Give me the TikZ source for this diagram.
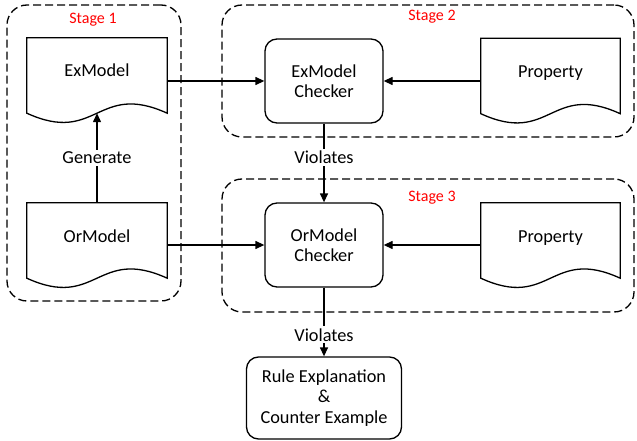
\documentclass[tikz,border=0pt]{standalone}
\usepackage{fontspec}
\setmainfont{Carlito}
\usetikzlibrary{arrows.meta,calc}
\tikzset{
  base/.style={font=\fontsize{18.3}{20.5}\selectfont, inner sep=0pt},
  docnode/.style={base, rectangle, minimum width=140pt, minimum height=75pt, text height=13pt, text depth=10pt},
  procbox/.style={base, draw, line width=1.3pt, rounded corners=12pt, minimum width=118pt, minimum height=84pt, align=center},
  stagebox/.style={draw, line width=1.3pt, dash pattern=on 8pt off 4pt, rounded corners=20pt, inner sep=0pt},
  stagelabel/.style={font=\fontsize{16}{18}\selectfont, text=red, inner sep=0pt},
  flow/.style={draw, line width=1.3pt, -{Triangle[length=9pt,width=8pt]}},
  plainline/.style={line width=1.3pt},
  edgelabel/.style={base, fill=white, inner sep=2pt},
}
% outline of a "document" shape: flat top, wavy bottom
\newcommand{\docoutline}[1]{%
  \draw[plainline] (#1.south west) -- (#1.north west) -- (#1.north east) -- (#1.south east)
    .. controls ($(#1.south)+(0,-32)$) and ($(#1.south)+(0,32)$) .. (#1.south west) -- cycle;}
\begin{document}
\begin{tikzpicture}[x=1pt,y=-1pt]
\useasboundingbox (0,0) rectangle (637,441);

% stage containers
\node[stagebox, minimum width=174pt, minimum height=296pt] (stage1) at (94,153) {};
\node[stagebox, minimum width=412pt, minimum height=132pt] (stage2) at (428,71) {};
\node[stagebox, minimum width=412pt, minimum height=133pt] (stage3) at (428,245.5) {};
\node[stagelabel] (s1lbl) at (93,20) {Stage 1};
\node[stagelabel] (s2lbl) at (432,17) {Stage 2};
\node[stagelabel] (s3lbl) at (432,198) {Stage 3};

% documents
\node[docnode] (exm) at (97,75.5) {ExModel};
\node[docnode] (orm) at (97,240.5) {OrModel};
\node[docnode, minimum width=139pt] (prop1) at (550.5,76) {Property};
\node[docnode, minimum width=139pt] (prop2) at (550.5,240.5) {Property};
\docoutline{exm}
\docoutline{orm}
\docoutline{prop1}
\docoutline{prop2}

% checkers and result
\node[procbox] (exc) at (324,81) {ExModel\\Checker};
\node[procbox] (orc) at (324,245) {OrModel\\Checker};
\node[procbox, minimum width=155pt, minimum height=82pt] (rule) at (324,398) {Rule Explanation\\\&\\Counter Example};

% connectors
\draw[flow] (exm.east |- exc.west) -- (exc.west);
\draw[flow] (prop1.west |- exc.east) -- (exc.east);
\draw[flow] (orm.east |- orc.west) -- (orc.west);
\draw[flow] (prop2.west |- orc.east) -- (orc.east);
\draw[flow] (orm.north) -- node[edgelabel, pos=0.5] (genlbl) {Generate} (exm.south);
\draw[flow] (exc.south) -- node[edgelabel, pos=0.425] (vio1) {Violates} (orc.north);
\draw[flow] (orc.south) -- node[edgelabel, pos=0.686] (vio2) {Violates} (rule.north);
\end{tikzpicture}
\end{document}
